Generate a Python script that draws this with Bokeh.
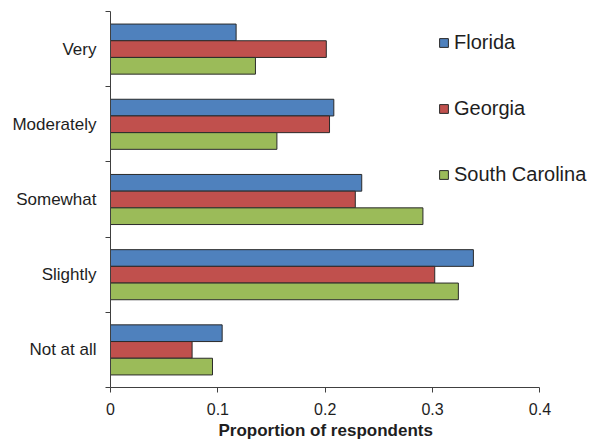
from bokeh.plotting import figure
from bokeh.models import Range1d, FixedTicker, Legend, LegendItem, ColumnDataSource, Title
from bokeh.embed import file_html
from bokeh.resources import INLINE

categories = ["Very", "Moderately", "Somewhat", "Slightly", "Not at all"]
series_names = ["Florida", "Georgia", "South Carolina"]
florida = [0.117, 0.208, 0.234, 0.338, 0.104]
georgia = [0.201, 0.204, 0.228, 0.302, 0.076]
south_carolina = [0.135, 0.155, 0.291, 0.324, 0.095]
x_ticks = [0, 0.1, 0.2, 0.3, 0.4]

colors = ["#4F81BD", "#C0504D", "#9BBB59"]
series = [florida, georgia, south_carolina]

n = len(categories)
cat_pos = [n - i for i in range(n)]  # Very at top

p = figure(width=591, height=441, output_backend="svg", toolbar_location=None,
           x_range=Range1d(0, 0.448), y_range=Range1d(0.5, n + 0.5),
           min_border_left=110, min_border_right=0, min_border_top=11,
           min_border_bottom=54, border_fill_color="white")
p.outline_line_color = None
p.xgrid.visible = False
p.ygrid.visible = False
p.background_fill_color = "white"

bar_h = 0.222
offsets = [bar_h, 0.0, -bar_h]
renderers = []
for vals, col, off in zip(series, colors, offsets):
    src = ColumnDataSource(dict(y=[c + off for c in cat_pos], right=vals))
    r = p.hbar(y="y", right="right", left=0, height=bar_h, source=src,
               fill_color=col, line_color="#2a2a2a", line_width=1)
    renderers.append(r)

axis_color = "#404040"
text_color = "#1e1e1e"

xa = p.xaxis[0]
xa.bounds = (0, 0.4)
xa.ticker = FixedTicker(ticks=x_ticks)
xa.major_label_overrides = {0: "0", 0.1: "0.1", 0.2: "0.2", 0.3: "0.3", 0.4: "0.4"}
xa.axis_line_color = axis_color
xa.major_tick_line_color = axis_color
xa.major_tick_out = 5
xa.major_tick_in = 0
xa.minor_tick_line_color = None
xa.major_label_text_font = "Liberation Sans"
xa.major_label_text_font_size = "16px"
xa.major_label_text_color = text_color
xa.major_label_standoff = 10

p.add_layout(Title(text="Proportion of respondents", align="left", offset=108,
                   text_font="Liberation Sans", text_font_size="17px",
                   text_font_style="bold", text_color=text_color, standoff=3), "below")

ya = p.yaxis[0]
ya.ticker = FixedTicker(ticks=cat_pos, minor_ticks=[k + 0.5 for k in range(n + 1)])
ya.major_label_overrides = {c: lab for c, lab in zip(cat_pos, categories)}
ya.axis_line_color = axis_color
ya.major_tick_line_color = None
ya.major_tick_out = 0
ya.major_tick_in = 0
ya.minor_tick_line_color = axis_color
ya.minor_tick_out = 5
ya.minor_tick_in = 0
ya.major_label_text_font = "Liberation Sans"
ya.major_label_text_font_size = "17px"
ya.major_label_text_color = text_color
ya.major_label_standoff = 9

legend = Legend(items=[LegendItem(label=nm, renderers=[r]) for nm, r in zip(series_names, renderers)],
                location=(328, 201), orientation="vertical",
                label_text_font="Liberation Sans", label_text_font_size="20px",
                label_text_color=text_color, glyph_width=11, glyph_height=11,
                label_height=22, spacing=43, label_standoff=5, padding=0, margin=0,
                border_line_color=None, background_fill_alpha=0)
p.add_layout(legend, "center")

open("out.html", "w").write(file_html(p, INLINE))
